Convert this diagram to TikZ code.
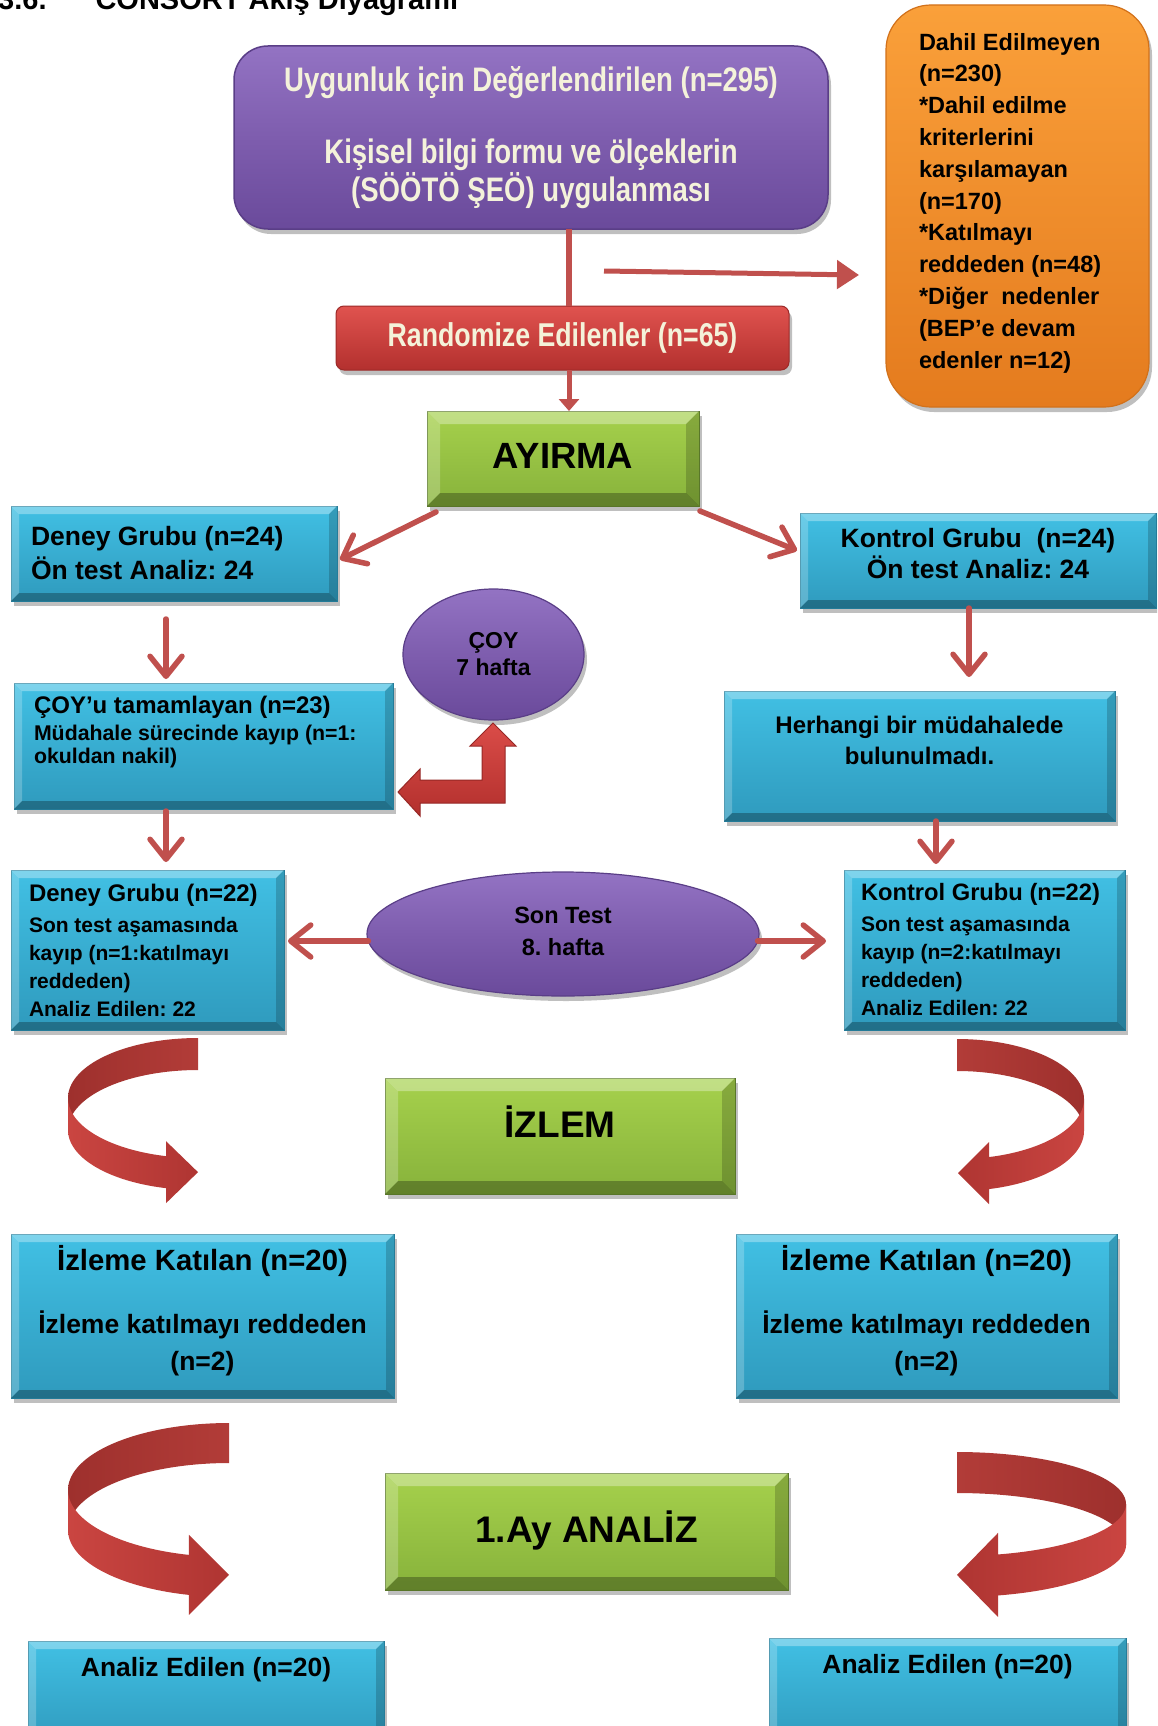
\documentclass[tikz,border=0pt]{standalone}
\usepackage{fontspec}
\setmainfont{Liberation Sans}
\newfontfamily\narrowf[FakeStretch=0.81]{Liberation Sans}
\usetikzlibrary{arrows.meta,shapes.geometric,shadows}
\newcommand{\fsz}[2]{\fontsize{#1}{#2}\selectfont\spaceskip=\fontdimen2\font\xspaceskip=\fontdimen2\font\relax}
\definecolor{arrowred}{HTML}{C0504D}
\definecolor{purT}{HTML}{9373C3}
\definecolor{purM}{HTML}{7E5DAE}
\definecolor{purB}{HTML}{6A4A9B}
\definecolor{purD}{HTML}{5A3E87}
\definecolor{cream}{HTML}{F4F2DA}
\definecolor{redT}{HTML}{E0534F}
\definecolor{redB}{HTML}{B3302E}
\definecolor{redD}{HTML}{9C2A28}
\definecolor{orT}{HTML}{FAA03A}
\definecolor{orB}{HTML}{E47B1E}
\definecolor{orD}{HTML}{D2711A}
\definecolor{bluT}{HTML}{41C0E4}
\definecolor{bluB}{HTML}{2F9ABD}
\definecolor{bluD}{HTML}{257F9D}
\definecolor{grnT}{HTML}{A6D14C}
\definecolor{grnB}{HTML}{87B23B}
\definecolor{grnD}{HTML}{5C7A2A}
\definecolor{ribBackD}{HTML}{9E302D}
\definecolor{ribBackL}{HTML}{B23C38}
\definecolor{ribFrontL}{HTML}{CA4541}
\definecolor{ribFrontD}{HTML}{AF3532}
\definecolor{elbT}{HTML}{DA4C48}
\definecolor{elbB}{HTML}{B3302D}
\definecolor{elbD}{HTML}{962826}

\newcommand{\bevelbox}[2]{%
  \fill[white,fill opacity=0.32] (#1.north west) -- (#1.north east) -- ([shift={(-#2,#2)}]#1.north east) -- ([shift={(#2,#2)}]#1.north west) -- cycle;
  \fill[white,fill opacity=0.22] (#1.north west) -- ([shift={(#2,#2)}]#1.north west) -- ([shift={(#2,-#2)}]#1.south west) -- (#1.south west) -- cycle;
  \fill[black,fill opacity=0.18] (#1.north east) -- (#1.south east) -- ([shift={(-#2,-#2)}]#1.south east) -- ([shift={(-#2,#2)}]#1.north east) -- cycle;
  \fill[black,fill opacity=0.28] (#1.south west) -- ([shift={(#2,-#2)}]#1.south west) -- ([shift={(-#2,-#2)}]#1.south east) -- (#1.south east) -- cycle;
}
% #1 cx, #2 cy, #3 rx, #4 ry, #5 thickness, #6 dir (1 left, -1 right), #7 head angle, #8 tip x, #9 head half height
\newcommand{\ribbonarrow}[9]{%
  \pgfmathsetmacro{\rbxb}{#1-(#6)*#3*sin(#7)}%
  \pgfmathsetmacro{\rbyb}{#2-#4*cos(#7)+#5/2}%
  \shade[ribB] plot[domain=0:90,samples=40,variable=\t] ({#1-(#6)*#3*sin(\t)},{#2-#4*cos(\t)})
     -- plot[domain=90:0,samples=40,variable=\t] ({#1-(#6)*#3*sin(\t)},{#2-#4*cos(\t)+#5}) -- cycle;
  \shade[ribF] plot[domain=90:#7,samples=40,variable=\t] ({#1-(#6)*#3*sin(\t)},{#2-#4*cos(\t)})
     -- ({\rbxb},{\rbyb-#9}) -- ({#8},{\rbyb}) -- ({\rbxb},{\rbyb+#9})
     -- plot[domain=#7:90,samples=40,variable=\t] ({#1-(#6)*#3*sin(\t)},{#2-#4*cos(\t)+#5}) -- cycle;
}

\tikzset{
  shadowed/.style={drop shadow={shadow xshift=3pt,shadow yshift=-5pt,opacity=0.25,fill=black}},
  box/.style={rectangle, inner sep=0pt, outer sep=0pt, anchor=north west},
  bluebox/.style={box, top color=bluT, bottom color=bluB, draw=bluD, line width=0.8pt, shadowed, text=black, font=\bfseries},
  greenbox/.style={box, top color=grnT, bottom color=grnB, draw=grnD, line width=0.8pt, shadowed, text=black, font={\bfseries\fsz{37}{40}}},
  purplebox/.style={box, rounded corners=34pt, top color=purT, bottom color=purB, middle color=purM, draw=purD, line width=1.5pt, shadowed, text=cream, font={\narrowf\bfseries}},
  redbox/.style={box, rounded corners=8pt, top color=redT, bottom color=redB, draw=redD, line width=1pt, shadowed, text=cream, font={\narrowf\bfseries\fsz{33}{36}}},
  orangebox/.style={box, rounded corners=45pt, top color=orT, bottom color=orB, draw=orD, line width=1.2pt, shadowed, text=black, font={\bfseries\fsz{23.5}{31.8}}},
  purpleell/.style={ellipse, inner sep=0pt, top color=purT, bottom color=purB, middle color=purM, draw=purD, line width=1.2pt, shadowed, text=black},
  arr/.style={draw=arrowred, line width=5.5pt, line cap=round, -{Straight Barb[length=20pt,width=32pt,round]}},
  plainline/.style={draw=arrowred, line width=5.5pt},
}

\begin{document}
\begin{tikzpicture}[x=1pt,y=-1pt]
\useasboundingbox (0,0) rectangle (1157,1726);
\clip (0,0) rectangle (1157,1726);
\fill[white] (0,0) rectangle (1157,1726);

% heading (cut off at the top, as in the reference)
\node[anchor=base west, inner sep=0pt, font={\bfseries\fsz{29}{32}}] (hdr) at (-2,10) {3.6.\hspace{49pt}CONSORT Akış Diyagramı};

% top boxes
\node[purplebox, minimum width=594pt, minimum height=183pt, text width=580pt, align=center] (top) at (234,46)
  {\fsz{34}{36}Uygunluk için Değerlendirilen (n=295)\\[36pt]Kişisel bilgi formu ve ölçeklerin\\(SÖÖTÖ ŞEÖ) uygulanması\par};
\node[redbox, minimum width=453pt, minimum height=64pt] (rand) at (336,306) {Randomize Edilenler (n=65)};
\node[orangebox, minimum width=263pt, minimum height=402pt, text width=197pt, align=left] (excl) at (886,5)
  {\fsz{23.5}{31.8}Dahil Edilmeyen\\(n=230)\\{}*Dahil edilme\\kriterlerini\\karşılamayan\\(n=170)\\{}*Katılmayı\\reddeden (n=48)\\{}*Diğer\ \ nedenler\\(BEP’e devam\\edenler n=12)\par\vspace*{6pt}};

\node[greenbox, minimum width=272pt, minimum height=95pt, font={\bfseries\fsz{36.5}{40}}] (ay) at (427,411) {\raisebox{-9.6pt}[0pt][0pt]{AYIRMA}};
\bevelbox{ay}{13}

% first level
\node[bluebox, minimum width=326pt, minimum height=95pt, text width=286pt, align=left] (d1) at (11,506)
  {\fsz{26.5}{34}Deney Grubu (n=24)\\Ön test Analiz: 24\par};
\bevelbox{d1}{8}
\node[bluebox, minimum width=356pt, minimum height=95pt, text width=340pt, align=center] (k1) at (800,513)
  {\fsz{26.5}{31}Kontrol Grubu\ \ (n=24)\\Ön test Analiz: 24\par\vspace*{14pt}};
\bevelbox{k1}{8}

% second level
\node[purpleell, minimum width=181pt, minimum height=131pt, align=center, font={\bfseries\fsz{23}{27}}] (coy) at (493.5,654.5) {ÇOY\\7 hafta};
\node[bluebox, minimum width=379pt, minimum height=126pt, text width=339pt, align=left] (coyu) at (14,683)
  {\fsz{24}{27}ÇOY’u tamamlayan (n=23)\\[4pt]\fsz{21.3}{23}Müdahale sürecinde kayıp (n=1:\\okuldan nakil)\par\vspace*{28pt}};
\bevelbox{coyu}{8}
\node[bluebox, minimum width=391pt, minimum height=130pt, text width=370pt, align=center] (herh) at (724,691)
  {\fsz{24}{31}Herhangi bir müdahalede\\bulunulmadı.\par\vspace*{32pt}};
\bevelbox{herh}{8}

% third level
\node[bluebox, minimum width=273pt, minimum height=160pt, text width=237pt, align=left] (d2) at (11,870)
  {\fsz{24}{31}Deney Grubu (n=22)\\[3pt]\fsz{21}{28}Son test aşamasında\\kayıp (n=1:katılmayı\\reddeden)\\Analiz Edilen: 22\par};
\bevelbox{d2}{8}
\node[purpleell, minimum width=392pt, minimum height=124pt, text width=200pt, align=center, font=\bfseries] (son) at (563,934) {\fsz{23.5}{32}Son Test\\8. hafta\par\vspace*{6pt}};
\node[bluebox, minimum width=281pt, minimum height=160pt, text width=247pt, align=left] (k2) at (844,870)
  {\fsz{23.7}{31}Kontrol Grubu (n=22)\\[3pt]\fsz{21}{28}Son test aşamasında\\kayıp (n=2:katılmayı\\reddeden)\\Analiz Edilen: 22\par};
\bevelbox{k2}{8}

% follow-up
\node[greenbox, minimum width=350pt, minimum height=116pt] (izlem) at (385,1078) {\raisebox{-1.2pt}[0pt][0pt]{İZLEM}};
\bevelbox{izlem}{13}
\node[bluebox, minimum width=383pt, minimum height=164pt, text width=370pt, align=center] (iz1) at (11,1234)
  {\fsz{29.3}{34}İzleme Katılan (n=20)\\[26pt]\fsz{26.5}{37}İzleme katılmayı reddeden\\(n=2)\par\vspace*{10pt}};
\bevelbox{iz1}{8}
\node[bluebox, minimum width=381pt, minimum height=164pt, text width=368pt, align=center] (iz2) at (736,1234)
  {\fsz{29.3}{34}İzleme Katılan (n=20)\\[26pt]\fsz{26.5}{37}İzleme katılmayı reddeden\\(n=2)\par\vspace*{10pt}};
\bevelbox{iz2}{8}

\node[greenbox, minimum width=403pt, minimum height=117pt] (ayan) at (385,1473) {\raisebox{-10.7pt}[0pt][0pt]{1.Ay ANALİZ}};
\bevelbox{ayan}{13}
\node[bluebox, minimum width=356pt, minimum height=104pt, text width=340pt, align=center] (an1) at (28,1641)
  {\fsz{26.4}{30}Analiz Edilen (n=20)\par\vspace*{46pt}};
\bevelbox{an1}{8}
\node[bluebox, minimum width=357pt, minimum height=107pt, text width=340pt, align=center] (an2) at (769,1638)
  {\fsz{26.4}{30}Analiz Edilen (n=20)\par\vspace*{49pt}};
\bevelbox{an2}{8}

% connectors
\coordinate (xA) at (569,0);
\coordinate (xL) at (166,0);
\coordinate (xR1) at (969,0);
\coordinate (xR2) at (936,0);
\coordinate (exs) at (604,271);

\draw[plainline] (top.south -| xA) -- (rand.north -| xA);
\draw[draw=arrowred, line width=5pt, -{Triangle[length=12pt,width=20pt]}] (rand.south -| xA) -- (ay.north -| xA);
\draw[draw=arrowred, line width=5pt, -{Triangle[length=22pt,width=28pt]}] (exs) -- ([shift={(-27,69)}]excl.west);

\draw[arr] ([shift={(9,6)}]ay.south west) -- ([shift={(3,6)}]d1.east);
\draw[arr] ([shift={(1,5)}]ay.south east) -- ([shift={(-3,-10)}]k1.west);

\draw[arr, shorten <=18pt, shorten >=4pt] (d1.south -| xL) -- (coyu.north -| xL);
\draw[arr, shorten <=2pt, shorten >=8pt] (coyu.south -| xL) -- (d2.north -| xL);
\draw[arr, shorten >=14pt] (k1.south -| xR1) -- (herh.north -| xR1);
\draw[arr, shorten >=6pt] (herh.south -| xR2) -- (k2.north -| xR2);

\draw[arr] ([shift={(2,7)}]son.west) -- ([shift={(4,-9)}]d2.east);
\draw[arr] ([shift={(-2,7)}]son.east) -- ([shift={(-18,-9)}]k2.west);

% elbow block arrow from the COY ellipse to the box
\shade[top color=elbT, bottom color=elbB, draw=elbD, line width=1pt]
  (493,723) -- (516,746) -- (505,746) -- (505,803) -- (420,803) -- (420,816) -- (398,792)
  -- (420,769) -- (420,780) -- (482,780) -- (482,746) -- (470,746) -- cycle;

% curved ribbon arrows
\tikzset{ribB/.style={left color=ribBackD, right color=ribBackL}, ribF/.style={left color=ribFrontL, right color=ribFrontD}}
\ribbonarrow{198}{1098}{130}{60}{32}{1}{165.75}{198}{31}
\ribbonarrow{229}{1490}{161}{67}{40}{1}{165.6}{229}{40}
\tikzset{ribB/.style={left color=ribBackL, right color=ribBackD}, ribF/.style={left color=ribFrontD, right color=ribFrontL}}
\ribbonarrow{957}{1099}{127}{60}{32}{-1}{165.4}{958}{31}
\ribbonarrow{957}{1504}{169}{52}{41}{-1}{165.96}{957}{42}
\end{tikzpicture}
\end{document}
